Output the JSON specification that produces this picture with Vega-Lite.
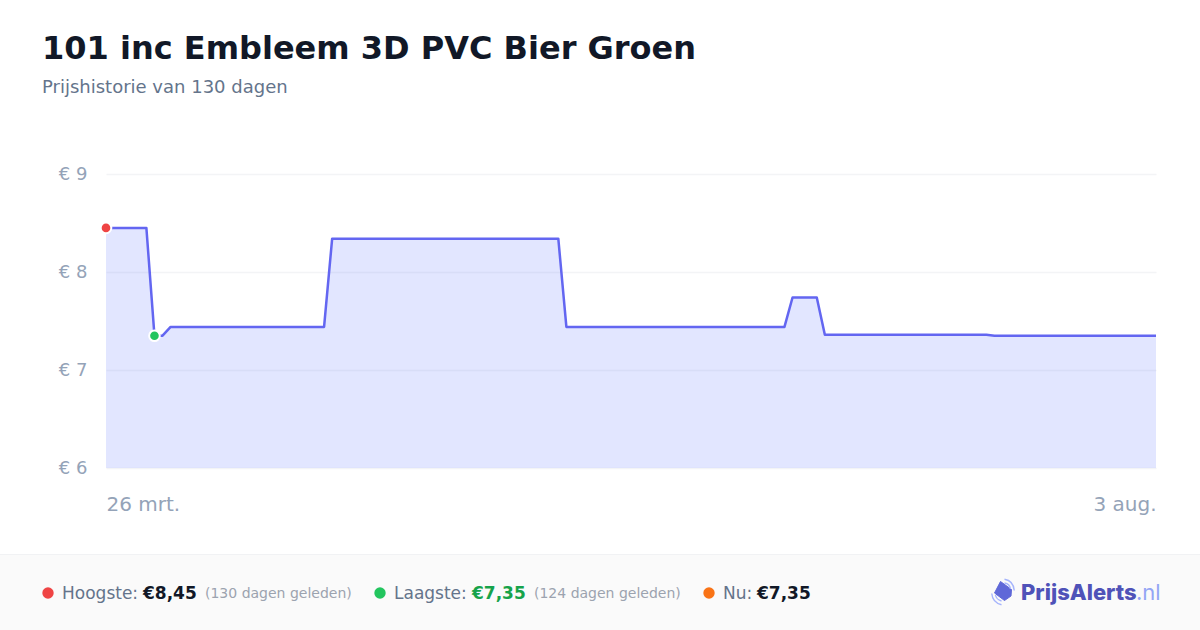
{
"$schema":"https://vega.github.io/schema/vega-lite/v6.json",
"width":1050,"height":294,
"autosize":{"type":"none"},
"padding":{"left":106,"top":174,"right":44,"bottom":162},
"background":"#ffffff",
"view":{"stroke":"transparent"},
"title":{"text":"101 inc Embleem 3D PVC Bier Groen","subtitle":"Prijshistorie van 130 dagen","anchor":"start","frame":"group","dx":-64,"offset":67,"font":"DejaVu Sans","fontSize":32,"fontWeight":"bold","color":"#111827","subtitleFont":"DejaVu Sans","subtitleFontSize":18,"subtitleColor":"#64748b","subtitlePadding":13},
"datasets":{
"price":[
{"date":"2025-03-26","price":8.45},{"date":"2025-03-31","price":8.45},{"date":"2025-04-01","price":7.35},{"date":"2025-04-02","price":7.35},{"date":"2025-04-03","price":7.44},{"date":"2025-04-22","price":7.44},{"date":"2025-04-23","price":8.34},{"date":"2025-05-21","price":8.34},{"date":"2025-05-22","price":7.44},{"date":"2025-06-18","price":7.44},{"date":"2025-06-19","price":7.74},{"date":"2025-06-22","price":7.74},{"date":"2025-06-23","price":7.36},{"date":"2025-07-13","price":7.36},{"date":"2025-07-14","price":7.35},{"date":"2025-08-03","price":7.35}
],
"extremes":[{"date":"2025-03-26","price":8.45,"kind":"Hoogste"},{"date":"2025-04-01","price":7.35,"kind":"Laagste"}]
},
"layer":[
{"data":{"values":[{"a":1}]},"mark":{"type":"rect","fill":"#fafafa","clip":false},"encoding":{"x":{"value":-106},"x2":{"value":1094},"y":{"value":381},"y2":{"value":456}}},
{"data":{"values":[{"a":1}]},"mark":{"type":"rule","stroke":"#f1f2f4","strokeWidth":1,"clip":false},"encoding":{"x":{"value":-106},"x2":{"value":1094},"y":{"value":380.5}}},
{"data":{"name":"price"},"mark":{"type":"area","color":"#6c80ff","opacity":0.2,"clip":true},
 "encoding":{
  "x":{"field":"date","type":"temporal","scale":{"type":"utc","domain":["2025-03-26","2025-08-03"]},
   "axis":{"title":null,"values":["2025-03-26","2025-08-03"],"labelExpr":"datum.index==0?'26 mrt.':'3 aug.'","labelAlign":{"expr":"datum.index==0?'left':'right'"},"labelFont":"DejaVu Sans","labelFontSize":20,"labelColor":"#94a3b8","labelPadding":26,"labelFlush":false,"labelOverlap":false,"domain":false,"ticks":false,"grid":false}},
  "y":{"field":"price","type":"quantitative","scale":{"domain":[6,9]},
   "axis":{"title":null,"values":[6,7,8,9],"labelExpr":"'€ '+datum.value","labelFont":"DejaVu Sans","labelFontSize":18,"labelColor":"#94a3b8","labelPadding":19,"domain":false,"ticks":false,"grid":true,"gridColor":"#f3f4f6","gridWidth":1.5}}
 }},
{"data":{"name":"price"},"mark":{"type":"line","color":"#6366f1","strokeWidth":2.5,"strokeJoin":"round"},
 "encoding":{"x":{"field":"date","type":"temporal"},"y":{"field":"price","type":"quantitative"}}},
{"data":{"name":"extremes"},"mark":{"type":"point","filled":true,"size":113,"stroke":"#ffffff","strokeWidth":2,"opacity":1},
 "encoding":{"x":{"field":"date","type":"temporal"},"y":{"field":"price","type":"quantitative"},
  "fill":{"field":"kind","type":"nominal","scale":{"domain":["Hoogste","Laagste"],"range":["#ef4444","#22c55e"]},"legend":null}}},
{"data":{"values":[{"k":"Hoogste"}]},"mark":{"type":"point","filled":true,"fill":"#ef4444","size":130,"opacity":1,"x":-58,"y":419},"encoding":{}},
{"data":{"values":[{"k":"Laagste"}]},"mark":{"type":"point","filled":true,"fill":"#22c55e","size":130,"opacity":1,"x":274,"y":419},"encoding":{}},
{"data":{"values":[{"k":"Nu"}]},"mark":{"type":"point","filled":true,"fill":"#f97316","size":130,"opacity":1,"x":603,"y":419},"encoding":{}},
{"data":{"values":[{"t":"Hoogste:"}]},"mark":{"type":"text","align":"left","baseline":"alphabetic","font":"DejaVu Sans","fontSize":17,"color":"#64748b","x":-44,"y":425},"encoding":{"text":{"field":"t"}}},
{"data":{"values":[{"t":"€8,45"}]},"mark":{"type":"text","align":"left","baseline":"alphabetic","font":"DejaVu Sans","fontSize":17,"fontWeight":"bold","color":"#111827","x":37,"y":425},"encoding":{"text":{"field":"t"}}},
{"data":{"values":[{"t":"(130 dagen geleden)"}]},"mark":{"type":"text","align":"left","baseline":"alphabetic","font":"DejaVu Sans","fontSize":14,"color":"#9ca3af","x":99,"y":424},"encoding":{"text":{"field":"t"}}},
{"data":{"values":[{"t":"Laagste:"}]},"mark":{"type":"text","align":"left","baseline":"alphabetic","font":"DejaVu Sans","fontSize":17,"color":"#64748b","x":288,"y":425},"encoding":{"text":{"field":"t"}}},
{"data":{"values":[{"t":"€7,35"}]},"mark":{"type":"text","align":"left","baseline":"alphabetic","font":"DejaVu Sans","fontSize":17,"fontWeight":"bold","color":"#16a34a","x":366,"y":425},"encoding":{"text":{"field":"t"}}},
{"data":{"values":[{"t":"(124 dagen geleden)"}]},"mark":{"type":"text","align":"left","baseline":"alphabetic","font":"DejaVu Sans","fontSize":14,"color":"#9ca3af","x":428,"y":424},"encoding":{"text":{"field":"t"}}},
{"data":{"values":[{"t":"Nu:"}]},"mark":{"type":"text","align":"left","baseline":"alphabetic","font":"DejaVu Sans","fontSize":17,"color":"#64748b","x":617,"y":425},"encoding":{"text":{"field":"t"}}},
{"data":{"values":[{"t":"€7,35"}]},"mark":{"type":"text","align":"left","baseline":"alphabetic","font":"DejaVu Sans","fontSize":17,"fontWeight":"bold","color":"#111827","x":651,"y":425},"encoding":{"text":{"field":"t"}}},
{"data":{"values":[{"t":"PrijsAlerts"}]},"mark":{"type":"text","align":"left","baseline":"alphabetic","font":"Inter","fontSize":22,"fontWeight":800,"color":"#4f52b8","x":915,"y":426},"encoding":{"text":{"field":"t"}}},
{"data":{"values":[{"t":".nl"}]},"mark":{"type":"text","align":"left","baseline":"alphabetic","font":"Inter","fontSize":22,"fontWeight":400,"color":"#93a5f5","x":1030,"y":426},"encoding":{"text":{"field":"t"}}},
{"data":{"values":[{"t":"tag"}]},"mark":{"type":"point","filled":true,"fill":"#5f68d8","stroke":"#5f68d8","strokeWidth":1,"strokeJoin":"round","opacity":1,"size":400,"shape":"M -0.25 -0.95 L 0.85 -0.15 L 0.8 0.5 L 0.15 0.95 L -0.85 0.2 Z","x":897,"y":417},"encoding":{}},
{"data":{"values":[{"t":"arcs"}]},"mark":{"type":"point","filled":false,"stroke":"#a5b4fc","strokeWidth":1.4,"opacity":1,"size":900,"shape":"M 0.1 -0.85 Q 0.7 -0.75 0.75 -0.1 M 0.1 -0.6 Q 0.45 -0.55 0.5 -0.2 M -0.75 0.1 Q -0.7 0.7 -0.1 0.85 M -0.5 0.2 Q -0.45 0.5 -0.1 0.6","x":897,"y":418},"encoding":{}}
],
"config":{"axis":{"labelFont":"DejaVu Sans"}}
}
